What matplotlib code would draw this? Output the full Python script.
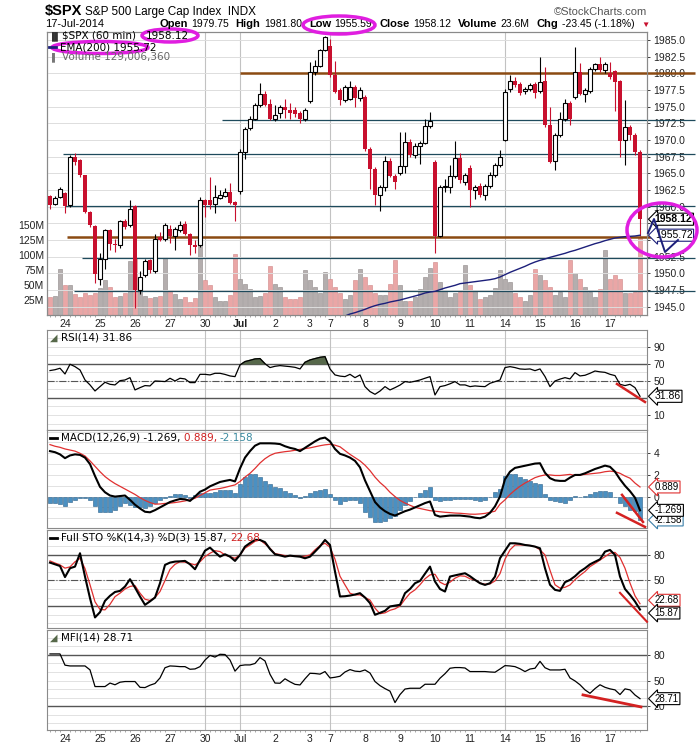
import numpy as np
import matplotlib.pyplot as plt
from matplotlib.patches import Ellipse
from matplotlib.lines import Line2D

plt.rcParams['font.family'] = ['Liberation Sans', 'DejaVu Sans']

W, H = 700, 748

# ---------------- data (hourly bars, 23 Jun - 17 Jul 2014) ----------------
day_labels = ['23', '24', '25', '26', '27', '30', 'Jul', '2', '3', '7', '8',
              '9', '10', '11', '14', '15', '16', '17']
bars_per_day = [3, 7, 7, 7, 7, 7, 7, 7, 4, 7, 7, 7, 7, 7, 7, 7, 7, 7]
week_start_days = ['30', 'Jul', '7', '14']

open_ = [1961.55, 1960.35, 1961.45, 1962.05, 1960.2, 1967.45, 1966.95, 1964.7, 1959.2, 1957.1,
         1949.2, 1952.2, 1956.45, 1954.45, 1954.2, 1957.8, 1957.2, 1960.05, 1947.45, 1949.8,
         1951.95, 1950.3, 1955.4, 1955.2, 1956.7, 1955.6, 1956.45, 1957.45, 1955.95, 1954.2,
         1954.2, 1960.95, 1960.95, 1960.35, 1961.35, 1961.6, 1962.2, 1960.7, 1962.3, 1968.2,
         1971.8, 1973.2, 1975.2, 1976.95, 1975.45, 1973.1, 1974.0, 1975.0, 1974.5, 1974.45,
         1974.1, 1973.1, 1975.8, 1980.2, 1981.1, 1983.45, 1984.1, 1979.7, 1977.45, 1975.95,
         1976.2, 1977.95, 1976.3, 1976.45, 1968.7, 1965.6, 1961.8, 1962.95, 1966.8, 1964.6,
         1965.1, 1966.05, 1969.7, 1967.8, 1969.1, 1969.6, 1972.1, 1966.7, 1955.6, 1962.9,
         1962.95, 1964.6, 1967.3, 1963.7, 1965.8, 1962.45, 1963.1, 1961.8, 1963.1, 1964.8,
         1966.3, 1969.95, 1977.6, 1978.8, 1978.45, 1977.3, 1977.7, 1978.45, 1977.3, 1978.8,
         1972.2, 1966.8, 1970.7, 1973.1, 1975.6, 1976.45, 1980.2, 1976.95, 1977.3, 1980.6,
         1981.45, 1980.45, 1980.0, 1980.3, 1978.8, 1969.95, 1971.95, 1970.7, 1968.2]
high_ = [1961.7, 1961.6, 1962.95, 1962.2, 1967.8, 1968.1, 1967.2, 1964.8, 1959.4, 1957.3,
         1953.0, 1956.7, 1956.6, 1955.2, 1958.0, 1958.2, 1961.0, 1960.3, 1950.3, 1952.1,
         1952.2, 1955.9, 1956.2, 1957.6, 1957.2, 1957.0, 1957.8, 1957.8, 1956.1, 1955.0,
         1961.5, 1961.2, 1964.45, 1963.2, 1962.5, 1962.8, 1963.6, 1960.9, 1968.6, 1972.0,
         1973.6, 1975.5, 1978.5, 1977.3, 1976.2, 1975.2, 1975.3, 1976.2, 1975.5, 1975.0,
         1974.3, 1974.8, 1981.7, 1982.0, 1983.6, 1985.6, 1985.2, 1981.8, 1977.8, 1978.2,
         1978.8, 1978.3, 1977.9, 1976.8, 1969.0, 1965.9, 1963.2, 1967.6, 1967.3, 1964.9,
         1971.2, 1971.2, 1970.2, 1969.5, 1969.9, 1973.2, 1974.2, 1967.0, 1963.2, 1964.2,
         1966.2, 1969.8, 1968.0, 1965.0, 1966.2, 1963.3, 1963.5, 1963.4, 1965.2, 1966.6,
         1968.5, 1977.6, 1979.7, 1979.5, 1978.7, 1978.0, 1978.5, 1978.7, 1982.4, 1980.9,
         1975.0, 1971.0, 1974.2, 1976.2, 1975.9, 1984.0, 1981.5, 1977.8, 1980.9, 1981.6,
         1982.4, 1981.7, 1981.7, 1980.5, 1979.0, 1976.0, 1972.3, 1971.0, 1968.5]
low_ = [1959.7, 1960.2, 1961.35, 1959.0, 1960.0, 1966.3, 1964.5, 1959.0, 1957.0, 1948.5,
        1948.2, 1950.7, 1953.5, 1953.2, 1953.8, 1956.7, 1956.9, 1944.8, 1946.9, 1949.5,
        1950.1, 1950.1, 1954.8, 1954.9, 1954.5, 1953.5, 1956.2, 1955.7, 1952.8, 1953.0,
        1954.0, 1958.5, 1959.7, 1959.0, 1961.2, 1961.4, 1960.4, 1957.8, 1961.9, 1967.2,
        1971.5, 1973.0, 1975.0, 1975.1, 1973.0, 1972.8, 1973.3, 1973.3, 1973.2, 1973.5,
        1972.6, 1972.9, 1975.5, 1979.8, 1980.9, 1983.3, 1979.5, 1977.0, 1975.2, 1975.7,
        1976.0, 1975.0, 1975.8, 1968.4, 1962.6, 1960.2, 1959.4, 1962.3, 1964.4, 1962.6,
        1964.8, 1965.0, 1967.5, 1967.3, 1966.4, 1969.4, 1971.8, 1953.0, 1955.4, 1962.2,
        1962.0, 1964.3, 1963.5, 1963.2, 1960.0, 1961.2, 1961.5, 1961.0, 1962.8, 1964.5,
        1966.0, 1969.8, 1977.2, 1978.0, 1976.7, 1976.9, 1977.4, 1976.3, 1977.0, 1972.0,
        1966.5, 1965.5, 1970.4, 1972.8, 1972.3, 1976.2, 1976.7, 1975.7, 1977.0, 1980.3,
        1980.2, 1980.0, 1979.2, 1974.3, 1967.5, 1966.2, 1970.0, 1967.7, 1955.59]
close_ = [1960.3, 1961.35, 1962.6, 1960.05, 1967.45, 1966.7, 1964.7, 1959.2, 1957.2, 1949.95,
          1952.2, 1956.45, 1954.45, 1954.2, 1957.8, 1956.95, 1959.7, 1947.45, 1949.45, 1951.8,
          1950.45, 1955.2, 1955.0, 1957.2, 1955.6, 1956.6, 1957.3, 1955.95, 1954.2, 1954.0,
          1960.95, 1960.3, 1960.2, 1961.45, 1961.7, 1962.2, 1960.6, 1960.3, 1968.2, 1971.7,
          1973.2, 1975.2, 1976.95, 1975.3, 1973.2, 1973.7, 1975.0, 1974.45, 1974.1, 1973.95,
          1973.1, 1974.55, 1980.2, 1981.1, 1983.45, 1985.45, 1979.7, 1977.2, 1975.95, 1977.95,
          1977.95, 1976.3, 1977.55, 1968.6, 1965.6, 1961.8, 1962.95, 1966.8, 1964.6, 1963.7,
          1966.05, 1969.7, 1967.8, 1969.1, 1969.6, 1972.1, 1972.8, 1955.6, 1962.95, 1963.1,
          1964.6, 1967.3, 1963.95, 1964.7, 1962.45, 1962.95, 1961.8, 1963.1, 1964.8, 1966.3,
          1967.45, 1977.2, 1978.8, 1978.2, 1977.05, 1977.7, 1978.2, 1977.05, 1978.7, 1972.2,
          1966.7, 1970.7, 1973.1, 1975.6, 1973.1, 1980.2, 1976.95, 1977.45, 1980.6, 1981.45,
          1980.45, 1981.45, 1979.45, 1978.7, 1969.8, 1971.95, 1970.7, 1968.2, 1958.12]
volume_m = [30, 32, 76, 50, 50, 35, 30, 36, 33, 36,
            45, 58, 46, 30, 32, 36, 90, 95, 45, 32,
            28, 30, 32, 96, 42, 35, 27, 30, 22, 28,
            116, 58, 49, 30, 24, 24, 33, 102, 60, 51,
            44, 30, 32, 36, 82, 52, 47, 30, 27, 27,
            30, 74, 58, 47, 36, 72, 60, 47, 36, 27,
            33, 58, 76, 63, 49, 36, 33, 33, 52, 91,
            49, 24, 24, 30, 44, 63, 78, 88, 55, 41,
            30, 36, 38, 83, 49, 40, 27, 30, 33, 45,
            74, 60, 55, 36, 30, 24, 33, 77, 67, 58,
            47, 33, 38, 30, 91, 69, 60, 47, 38, 30,
            44, 108, 60, 66, 60, 36, 36, 38, 129]

ema_first_bar = 59
ema200 = [1943.6, 1943.9, 1944.1, 1944.35, 1944.6, 1944.9, 1945.15, 1945.35, 1945.5, 1945.7,
          1945.85, 1946.0, 1946.2, 1946.4, 1946.6, 1946.8, 1947.05, 1947.2, 1947.3, 1947.55,
          1947.8, 1948.0, 1948.2, 1948.45, 1948.55, 1948.65, 1948.75, 1948.85, 1948.95, 1949.05,
          1949.2, 1949.45, 1949.8, 1950.15, 1950.45, 1950.75, 1951.05, 1951.4, 1951.7, 1951.95,
          1952.15, 1952.4, 1952.6, 1952.8, 1953.0, 1953.25, 1953.45, 1953.7, 1953.95, 1954.2,
          1954.45, 1954.65, 1954.9, 1955.1, 1955.3, 1955.4, 1955.5, 1955.55, 1955.6, 1955.72]

rsi = [62, 63, 64.7, 58, 69.4, 66.6, 62.7, 51, 45.2, 38.1,
       43.2, 48.3, 45.9, 45.2, 50.2, 51.0, 53.7, 39.3, 42.0, 44.4,
       44.0, 49.8, 49.5, 49.1, 53.0, 49.8, 53.0, 52.2, 47.9, 47.9,
       57.6, 57.6, 56.9, 58.8, 58.8, 57.5, 55.7, 54.9, 68.6, 72.5,
       74, 75.6, 76, 70, 65.5, 67, 67.8, 67.2, 66.6, 65.8,
       63.9, 71.7, 74.4, 76, 77.5, 78.3, 63.9, 56.9, 55.5, 54.9,
       57.6, 53.7, 56.9, 43.2, 37.4, 34.2, 38, 43.2, 39.3, 42.0,
       45, 49.1, 48.3, 49.5, 51.0, 53, 54.9, 33.4, 43.2, 44.4,
       46.5, 49.1, 45.2, 45.2, 43.2, 44.0, 43.5, 43.2, 47.1, 49,
       51.0, 65.5, 66.6, 65.5, 63.9, 63.5, 63.9, 61.9, 63.9, 55,
       43.2, 49.8, 52, 53.7, 52.2, 59.6, 55.7, 56.5, 58.8, 61.5,
       60.5, 59.9, 57.6, 56.1, 45.9, 44.4, 45.9, 42.0, 31.86]

macd = [4.2, 4.1, 3.9, 3.55, 3.8, 3.9, 3.85, 3.6, 3.0, 1.9,
        0.9, 0.4, 0.1, 0.0, 0.05, 0.1, -0.3, -0.75, -1.1, -1.4,
        -1.45, -1.25, -1.0, -0.75, -0.5, -0.35, -0.22, -0.25, -0.4, 0.0,
        0.45, 0.65, 0.95, 1.15, 1.35, 1.45, 1.54, 1.4, 2.6, 3.6,
        4.2, 4.7, 4.92, 4.92, 4.92, 4.9, 4.85, 4.65, 4.5, 4.4,
        4.2, 4.5, 4.8, 5.1, 5.35, 5.45, 5.1, 4.4, 3.95, 3.8,
        3.6, 3.3, 2.7, 1.5, 0.5, -0.5, -1.0, -1.35, -1.6, -1.75,
        -1.55, -1.35, -1.2, -1.0, -0.8, -0.6, -0.45, -1.7, -1.85, -1.8,
        -1.75, -1.75, -1.75, -1.8, -1.85, -1.95, -2.0, -1.85, -1.5, -0.9,
        0.0, 1.6, 2.3, 2.65, 2.75, 2.85, 2.95, 3.05, 3.08, 2.2,
        1.7, 1.5, 1.45, 1.45, 1.75, 2.0, 2.0, 2.15, 2.35, 2.55,
        2.7, 2.86, 2.75, 2.3, 1.6, 1.0, 0.5, -0.1, -1.269]
macd_signal = [4.8, 4.65, 4.55, 4.4, 4.3, 4.2, 4.0, 3.75, 3.3, 2.8,
               2.3, 1.85, 1.5, 1.2, 0.95, 0.7, 0.45, 0.2, -0.1, -0.35,
               -0.55, -0.7, -0.68, -0.63, -0.6, -0.55, -0.48, -0.4, -0.3, -0.15,
               0.1, 0.35, 0.6, 0.68, 0.75, 0.85, 0.97, 1.08, 1.4, 1.8,
               2.15, 2.6, 3.1, 3.5, 3.8, 4.0, 4.08, 4.15, 4.2, 4.28,
               4.36, 4.43, 4.5, 4.6, 4.7, 4.78, 4.83, 4.75, 4.6, 4.25,
               3.9, 3.6, 3.3, 2.9, 2.4, 1.8, 1.3, 0.9, 0.4, 0.0,
               -0.35, -0.6, -0.8, -1.0, -1.1, -1.2, -1.3, -1.35, -1.4, -1.45,
               -1.48, -1.52, -1.54, -1.58, -1.62, -1.63, -1.6, -1.55, -1.45, -1.35,
               -0.7, -0.3, 0.2, 0.6, 0.95, 1.25, 1.5, 1.75, 1.9, 2.0,
               2.0, 1.95, 1.95, 2.0, 2.05, 1.95, 2.0, 2.05, 2.1, 2.15,
               2.2, 2.3, 2.35, 2.3, 2.15, 1.9, 1.7, 1.25, 0.889]

sto_k = [71, 69, 67, 54, 64.4, 66.3, 82, 54.6, 29.2, 6.6,
         12.8, 26.1, 32, 36.5, 37.8, 42.9, 51.5, 41.7, 31.2, 21.4,
         25.5, 30, 46.8, 68.3, 71, 72.2, 72.5, 73, 69, 63.2,
         74.1, 85, 88.6, 83.1, 78, 80.8, 78, 73, 80, 89.8,
         94, 97.6, 97.6, 95, 87, 80.8, 79.5, 78, 79.2, 78.5,
         78, 76.1, 78, 83.9, 90, 97.6, 91.7, 60.5, 31.2, 31.5,
         32.3, 33.5, 35.1, 30, 23.4, 9.7, 12, 14.4, 19.5, 20.5,
         21.4, 35.1, 40, 46.8, 49.5, 58, 66.3, 48.8, 40, 37,
         54.6, 56, 57.3, 58.5, 55, 50.7, 46.8, 44.8, 46.8, 54.6,
         76.1, 85, 93.7, 93.7, 93, 91.7, 91, 89.8, 87.8, 64.4,
         45, 39, 37.8, 48, 50.7, 55, 60.5, 64.4, 69, 72,
         74.9, 83.9, 85.9, 80, 54.6, 40, 33.1, 25.3, 15.87]
sto_d = [73, 70.5, 68.3, 64.5, 66, 72, 76, 64, 45, 25,
         16, 15.5, 22, 31, 35.1, 40, 43, 44, 35.1, 28,
         26.5, 30, 37, 50, 63, 69, 72, 71.5, 70, 68.3,
         72, 78, 82, 85, 84, 80, 78, 76.1, 80, 88,
         91.7, 96, 97.6, 93, 87.8, 81.5, 80.5, 79.2, 79, 78.8,
         78, 78.5, 80, 86, 91, 93.7, 89, 75, 55, 44.8,
         35, 33.1, 33.1, 30, 27, 17.5, 11, 12, 15, 16.7,
         20, 28, 35, 39, 45, 52, 56.6, 57.3, 48, 45,
         48, 52.7, 55.5, 55, 52, 50.7, 47, 45.6, 46, 49.5,
         58, 75, 86, 91.7, 91.7, 91.7, 91, 89.8, 86, 80,
         62, 45, 41, 42, 44.8, 51, 56, 60.5, 66.3, 70,
         74, 78, 82, 83, 77, 64.4, 47, 32, 22.68]

mfi = [81.2, 81.2, 81.2, 68, 67.1, 67.1, 67.1, 67.1, 62.5, 42.9,
       42.9, 42.9, 47, 45, 48, 48.8, 48.8, 48.8, 42, 41.7,
       44.5, 46.5, 53, 65, 67.1, 66.8, 66.3, 66.3, 63.2, 63.6,
       66.3, 74, 79.5, 77.5, 80.8, 80.5, 74.1, 61, 67.5, 68.3,
       68.3, 70, 76.9, 73, 57.3, 47, 46.8, 52, 48.5, 45.5,
       44.8, 52, 58.5, 58.2, 57.5, 60.5, 53, 53.8, 55, 60,
       62.8, 61, 60.5, 62.4, 58.8, 48.8, 44, 40.5, 37.5, 24.1,
       33.5, 40, 40.9, 40.9, 40.9, 45.6, 45.6, 45.6, 52.7, 58,
       64.4, 65.2, 65.2, 64.7, 60.5, 60.5, 60.5, 60.5, 60, 59.7,
       63.5, 67.5, 67.1, 66.3, 63.8, 60.5, 63.5, 64.4, 72.5, 65,
       62.4, 62.4, 62.4, 63.2, 53, 49.5, 45, 39, 35, 40.5,
       45, 42, 40.2, 39, 33.5, 40.2, 39, 33, 28.71]

# support / resistance lines drawn on the chart: price, first bar, kind
level_price = [1980.0, 1973.0, 1967.85, 1960.1, 1955.5, 1952.25, 1947.4]
level_from = [38, 34.4, 2.6, 3, 3.3, 6.3, 4.8]
level_kind = ['brown', 'teal', 'teal', 'teal', 'brown', 'teal', 'teal']

# hand drawn red trend lines (bars, values) per panel
rsi_trend = ([113.4, 119.0], [46.3, 25.2])
macd_trend1 = ([114.4, 118.6], [0.16, -2.34])
macd_trend2 = ([113.4, 119.0], [-1.5, -2.8])
sto_trend = ([114.0, 119.4], [35.5, 1.5])
mfi_trend = ([106.6, 118.2], [33.1, 19.0])

header_quote = [('Open', '1979.75'), ('High', '1981.80'), ('Low', '1955.59'),
                 ('Close', '1958.12'), ('Volume', '23.6M'),
                 ('Chg', '-23.45 (-1.18%)')]

# ---------------- derived ----------------
o = np.array(open_)
hi = np.array(high_)
lo = np.array(low_)
c = np.array(close_)
vol = np.array(volume_m)
n = len(c)
x = np.arange(n)
up = c >= o
day_start = np.cumsum([0] + bars_per_day[:-1])
week_lines = [day_start[day_labels.index(d)] for d in week_start_days]
hist = np.array(macd) - np.array(macd_signal)

RED = '#c8102e'
GRID = '#dddddd'
VGRID = '#c2c2c2'
SPINE = '#8a8a8a'
NAVY = '#1c1f7a'
MAGENTA = '#e01ee0'
TREND_RED = '#d42222'


def rect(x0, y0, x1, y1):
    return [x0 / W, 1 - y1 / H, (x1 - x0) / W, (y1 - y0) / H]


def fy(y):
    return 1 - y / H


fig = plt.figure(figsize=(W / 100, H / 100), dpi=100)
fig.patch.set_facecolor('white')

ax_v = fig.add_axes(rect(47, 32, 647, 315))
ax = ax_v.twinx()
ax_rsi = fig.add_axes(rect(47, 330, 647, 430), sharex=ax_v)
ax_macd = fig.add_axes(rect(47, 430, 647, 528), sharex=ax_v)
ax_sto = fig.add_axes(rect(47, 530, 647, 628), sharex=ax_v)
ax_mfi = fig.add_axes(rect(47, 630, 647, 730), sharex=ax_v)

for a in [ax_v, ax, ax_rsi, ax_macd, ax_sto, ax_mfi]:
    for s in a.spines.values():
        s.set_color(SPINE)
        s.set_linewidth(0.8)
    a.tick_params(axis='both', which='both', labelsize=7.5, colors='#222222',
                  length=2.5, width=0.6)

for a in [ax_v, ax_rsi, ax_macd, ax_sto, ax_mfi]:
    for wl in week_lines:
        a.axvline(wl, color=VGRID, lw=0.8, zorder=0.5)

ax_v.set_xlim(-0.6, n + 0.4)
ax_v.set_xticks(day_start[1:])
ax_v.set_xticks(x, minor=True)
ax_v.set_xticklabels(day_labels[1:])
ax_v.tick_params(axis='x', which='minor', length=1.5, color='#999999')
ax_v.tick_params(axis='x', which='major', length=0, pad=3)
for lab in ax_v.get_xticklabels():
    if lab.get_text() == 'Jul':
        lab.set_fontweight('bold')

# ---- volume ----
vcol = np.where(up, '#b4aeae', '#eaa6a6')
vedge = np.where(up, '#8e8888', '#cf8585')
ax_v.bar(x, vol, width=0.92, color=vcol, edgecolor=vedge, lw=0.4, zorder=1)
ax_v.set_ylim(0, 470)
ax_v.set_yticks([25, 50, 75, 100, 125, 150])
ax_v.set_yticklabels(['25M', '50M', '75M', '100M', '125M', '150M'])
ax_v.tick_params(axis='y', length=0, pad=2)

# ---- price ----
ax.set_ylim(1943.75, 1986.2)
ticks = np.arange(1945, 1985.1, 2.5)
ax.set_yticks(ticks)
# labels sitting under the last-value tags are hidden, as on the original
ax.set_yticklabels(['' if 1954 < t < 1958 else '%.1f' % t for t in ticks])
ax.tick_params(axis='y', length=2.5, pad=2)
for t in ticks:
    ax.axhline(t, color=GRID, lw=0.7, zorder=0.6)

for p, f, k in zip(level_price, level_from, level_kind):
    if k == 'brown':
        ax.hlines(p, f, n + 10, color='#8b4a12', lw=1.8, zorder=2, clip_on=False)
    else:
        ax.hlines(p, f, n + 10, color='#1e4a5c', lw=0.9, zorder=2, clip_on=False)

bb = np.minimum(o, c)
bh = np.maximum(np.abs(c - o), 0.08)
ax.vlines(x[up], lo[up], hi[up], color='black', lw=0.8, zorder=3)
ax.vlines(x[~up], lo[~up], hi[~up], color=RED, lw=0.8, zorder=3)
ax.bar(x[up], bh[up], bottom=bb[up], width=0.72, facecolor='white',
       edgecolor='black', lw=0.8, zorder=4)
ax.bar(x[~up], bh[~up], bottom=bb[~up], width=0.72, color=RED, zorder=4)
ax.plot(x[ema_first_bar:], ema200, color=NAVY, lw=1.0, zorder=5)


def tag(a, val, txt, ec, color='black', weight='normal', size=7.5, dy=0):
    a.annotate(txt, xy=(1.013, val), xycoords=a.get_yaxis_transform(),
               xytext=(0, dy), textcoords='offset points', ha='left',
               va='center', fontsize=size, color=color, fontweight=weight,
               zorder=10, annotation_clip=False,
               bbox=dict(boxstyle='larrow,pad=0.1', fc='white', ec=ec, lw=0.8))


tag(ax, c[-1], '%.2f' % c[-1], 'black', weight='bold')
tag(ax, ema200[-1], '%.2f' % ema200[-1], NAVY)

# ---- RSI ----
rs = np.array(rsi)
ax_rsi.set_ylim(-7.6, 109.5)
for v in range(0, 101, 10):
    ax_rsi.axhline(v, color=GRID, lw=0.6, zorder=0.4)
ax_rsi.axhline(70, color='#555555', lw=1.0, zorder=1)
ax_rsi.axhline(30, color='#555555', lw=1.0, zorder=1)
ax_rsi.axhline(50, color='#555555', lw=0.8, ls='-.', zorder=1)
ax_rsi.fill_between(x, rs, 70, where=rs > 70, interpolate=True,
                    color='#56684a', zorder=2)
ax_rsi.plot(x, rs, color='black', lw=0.9, zorder=3)
ax_rsi.plot(*rsi_trend, color=TREND_RED, lw=1.8, zorder=4, clip_on=False)
ax_rsi.set_yticks([10, 50, 70, 90])
tag(ax_rsi, rsi[-1], '%.2f' % rsi[-1], 'black')

# ---- MACD ----
ax_macd.set_ylim(-2.9, 6.15)
for v in range(-2, 7):
    ax_macd.axhline(v, color=GRID, lw=0.6, zorder=0.4)
ax_macd.bar(x, hist, width=0.9, color='#4a90c2', edgecolor='#2a5f88', lw=0.4,
            zorder=1)
ax_macd.plot(x, macd_signal, color='#e03030', lw=0.9, zorder=2)
ax_macd.plot(x, macd, color='black', lw=1.5, zorder=3)
ax_macd.plot(*macd_trend1, color=TREND_RED, lw=1.8, zorder=4, clip_on=False)
ax_macd.plot(*macd_trend2, color=TREND_RED, lw=1.8, zorder=4, clip_on=False)
ax_macd.set_yticks([0, 2, 4])
tag(ax_macd, macd_signal[-1], '%.3f' % macd_signal[-1], '#e03030', size=7)
tag(ax_macd, hist[-1], '%.3f' % hist[-1], '#3a7fa8', size=7)
tag(ax_macd, macd[-1], '%.3f' % macd[-1], 'black', size=7)

# ---- Full STO ----
ax_sto.set_ylim(-5.8, 109.3)
for v in range(0, 101, 10):
    ax_sto.axhline(v, color=GRID, lw=0.6, zorder=0.4)
ax_sto.axhline(80, color='#555555', lw=1.0, zorder=1)
ax_sto.axhline(20, color='#555555', lw=1.0, zorder=1)
ax_sto.axhline(50, color='#555555', lw=0.8, ls='-.', zorder=1)
ax_sto.plot(x, sto_d, color='#e03030', lw=0.9, zorder=2)
ax_sto.plot(x, sto_k, color='black', lw=1.5, zorder=3)
ax_sto.plot(*sto_trend, color=TREND_RED, lw=1.5, zorder=4, clip_on=False)
ax_sto.set_yticks([50, 80])
tag(ax_sto, sto_d[-1], '%.2f' % sto_d[-1], '#e03030', size=7, dy=2.5)
tag(ax_sto, sto_k[-1], '%.2f' % sto_k[-1], 'black', size=7, dy=-2.5)

# ---- MFI ----
ax_mfi.set_ylim(-8.1, 109.3)
for v in range(0, 101, 10):
    ax_mfi.axhline(v, color=GRID, lw=0.6, zorder=0.4)
ax_mfi.axhline(80, color='#555555', lw=1.0, zorder=1)
ax_mfi.axhline(20, color='#555555', lw=1.0, zorder=1)
ax_mfi.plot(x, mfi, color='black', lw=0.9, zorder=3)
ax_mfi.plot(*mfi_trend, color=TREND_RED, lw=2.0, zorder=4, clip_on=False)
ax_mfi.set_yticks([20, 50, 80])
tag(ax_mfi, mfi[-1], '%.2f' % mfi[-1], 'black', size=7)

for a in [ax_rsi, ax_macd, ax_sto, ax_mfi]:
    a.yaxis.tick_right()
    a.tick_params(axis='y', length=2.5, pad=2)
for a in [ax_rsi, ax_macd, ax_sto]:
    a.tick_params(axis='x', which='both', bottom=False, labelbottom=False)
ax_mfi.tick_params(axis='x', which='major', length=0, pad=3)
ax_mfi.tick_params(axis='x', which='minor', length=1.5, color='#999999')

# ---------------- texts ----------------
LEG = dict(family='DejaVu Sans', fontsize=7.5, va='center')
fig.text(45 / W, fy(15), '$SPX', fontsize=10.5, fontweight='bold', va='baseline')
fig.text(85 / W, fy(15), 'S&P 500 Large Cap Index  INDX', fontsize=8.5, va='baseline')
fig.text(647 / W, fy(15), '\u00a9StockCharts.com', fontsize=8, ha='right',
         va='baseline', color='#555555')
fig.text(45 / W, fy(27), '17-Jul-2014', fontsize=8, va='baseline')

prev = None
for key, val in header_quote:
    if prev is None:
        kt = fig.text(159 / W, fy(27), key, fontsize=8, fontweight='bold',
                      va='baseline')
    else:
        kt = ax_v.annotate(key, xy=(1, 0), xycoords=prev, xytext=(5, 0),
                           textcoords='offset points', fontsize=8,
                           fontweight='bold', va='bottom', annotation_clip=False)
    prev = ax_v.annotate(val, xy=(1, 0), xycoords=kt, xytext=(2.5, 0),
                         textcoords='offset points', fontsize=7.5, va='bottom',
                         annotation_clip=False)
fig.text(641 / W, fy(27), '\u25bc', fontsize=6, color=RED, va='baseline')

fig.text(49 / W, fy(36), '\u2590\u258c', fontsize=6, va='center', color='#333333')
fig.text(62 / W, fy(36), '$SPX (60 min)', **LEG)
fig.text(146 / W, fy(36), '%.2f' % c[-1], **LEG)
fig.add_artist(Line2D([49 / W, 56 / W], [fy(47), fy(47)], color=NAVY, lw=2))
fig.text(60 / W, fy(47), 'EMA(200) %.2f' % ema200[-1], **LEG)
fig.text(49 / W, fy(57), '\u2590', fontsize=6, va='center', color='#777777')
fig.text(62 / W, fy(57), 'Volume 129,006,360', color='#666666', **LEG)

fig.text(50 / W, fy(338), '\u25e2', fontsize=7, va='center', color='#56684a')
fig.text(61 / W, fy(338), 'RSI(14) %.2f' % rsi[-1], **LEG)
fig.add_artist(Line2D([50 / W, 57 / W], [fy(438), fy(438)], color='black', lw=2))
t1 = fig.text(61 / W, fy(438), 'MACD(12,26,9) %.3f, ' % macd[-1], **LEG)
t2 = ax_macd.annotate('%.3f, ' % macd_signal[-1], xy=(1, 0.5), xycoords=t1,
                      ha='left', color='#d02020', annotation_clip=False, **LEG)
ax_macd.annotate('%.3f' % hist[-1], xy=(1, 0.5), xycoords=t2, ha='left',
                 color='#3a8aa0', annotation_clip=False, **LEG)
fig.add_artist(Line2D([50 / W, 57 / W], [fy(538), fy(538)], color='black', lw=2))
t3 = fig.text(61 / W, fy(538), 'Full STO %%K(14,3) %%D(3) %.2f, ' % sto_k[-1], **LEG)
ax_sto.annotate('%.2f' % sto_d[-1], xy=(1, 0.5), xycoords=t3, ha='left',
                color='#d02020', annotation_clip=False, **LEG)
fig.text(50 / W, fy(638), '\u25e2', fontsize=7, va='center', color='#56684a')
fig.text(61 / W, fy(638), 'MFI(14) %.2f' % mfi[-1], **LEG)

# ---------------- hand drawn annotations ----------------
for cx, cy, ew, eh in [(339, 25, 72, 18), (170, 35.5, 56, 13),
                       (100, 47.5, 96, 12), (662, 230, 70, 54)]:
    fig.add_artist(Ellipse((cx / W, fy(cy)), ew / W, eh / H, fill=False,
                           ec=MAGENTA, lw=2.5, transform=fig.transFigure))
fig.add_artist(Line2D([648 / W, 654 / W, 665 / W, 678 / W],
                      [fy(233), fy(219), fy(252), fy(240)],
                      color=NAVY, lw=1.4, transform=fig.transFigure))

fig.savefig('out.png', dpi=100, facecolor='white')
